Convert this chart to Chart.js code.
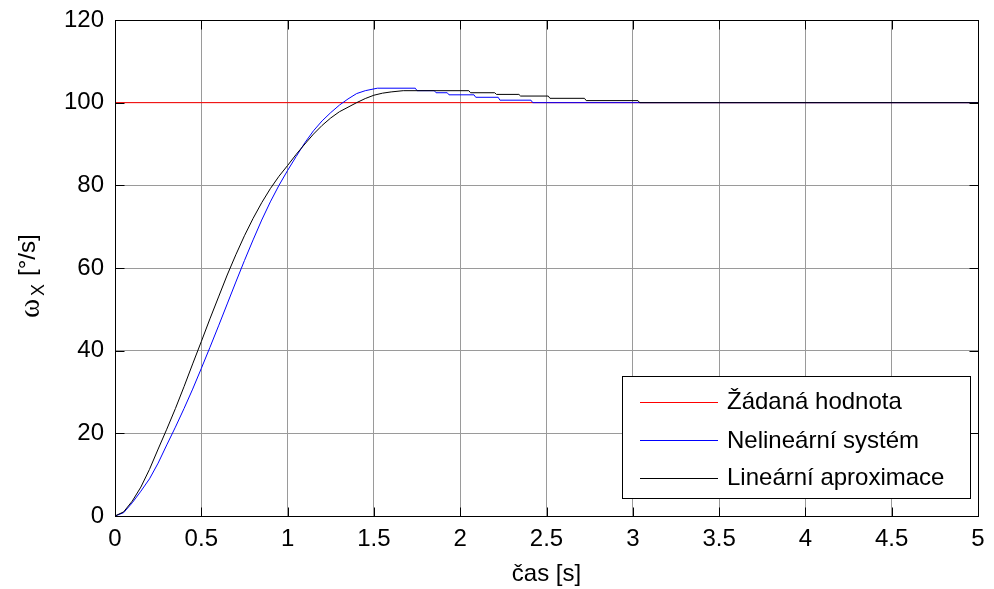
<!DOCTYPE html>
<html>
<head>
<meta charset="utf-8">
<script src="https://cdn.jsdelivr.net/npm/chart.js@4"></script>
<style>
  html, body { margin: 0; padding: 0; background: #fff; }
  #wrap { width: 994px; height: 589px; }
</style>
</head>
<body>
<div id="wrap"><canvas id="stepChart" width="994" height="589"></canvas></div>
<script>
// --- Data ---
const seriesLabels = ['Žádaná hodnota', 'Nelineární systém', 'Lineární aproximace'];
const seriesColors = ['#ff0000', '#0000ff', '#000000'];

const refTime = [0, 5];
const refOmega = [100, 100];

const nonlinTime = [0, 0.05, 0.1, 0.15, 0.2, 0.25, 0.3, 0.35, 0.4, 0.45, 0.5, 0.55, 0.6, 0.65, 0.7, 0.75,
  0.8, 0.85, 0.9, 0.95, 1.0, 1.05, 1.1, 1.15, 1.2, 1.25, 1.3, 1.35, 1.4, 1.45, 1.52, 1.74, 1.75,
  1.85, 1.86, 1.925, 1.935, 2.08, 2.09, 2.22, 2.23, 2.41, 2.42, 5];
const nonlinOmega = [0, 0.8, 3.2, 6, 9, 12.8, 17.2, 21.5, 26, 30.7, 35.7, 40.8, 46, 51.3, 56.6, 61.8,
  66.8, 71.6, 76, 80, 83.6, 87, 90.3, 93.2, 95.6, 97.6, 99.4, 100.9, 102.2, 102.9, 103.5, 103.5, 102.9,
  102.9, 102.4, 102.4, 101.9, 101.9, 101.3, 101.3, 100.6, 100.6, 100, 100];

const linTime = [0, 0.05, 0.1, 0.15, 0.2, 0.25, 0.3, 0.35, 0.4, 0.45, 0.5, 0.55, 0.6, 0.65, 0.7, 0.75,
  0.8, 0.85, 0.9, 0.95, 1.0, 1.05, 1.1, 1.15, 1.2, 1.25, 1.3, 1.35, 1.4, 1.45, 1.5, 1.55, 1.6, 1.67,
  2.05, 2.06, 2.2, 2.21, 2.34, 2.35, 2.51, 2.52, 2.72, 2.73, 3.03, 3.04, 5];
const linOmega = [0, 1.0, 3.6, 7, 11.3, 16.2, 21, 26, 31.3, 36.8, 42.2, 47.7, 53, 58.3, 63.2, 67.8,
  72, 75.8, 79.2, 82.2, 84.8, 87.5, 90, 92.4, 94.5, 96.3, 97.8, 98.9, 100, 101, 101.8, 102.3, 102.6, 102.9,
  102.9, 102.4, 102.4, 102.0, 102.0, 101.6, 101.6, 101.05, 101.05, 100.5, 100.5, 100, 100];

const xTicks = { min: 0, max: 5, step: 0.5 };
const yTicks = { min: 0, max: 120, step: 20 };
const xTitle = 'čas [s]';

const toPoints = (ts, vs) => ts.map((t, i) => ({ x: t, y: vs[i] }));

const FONT = '"Liberation Sans", Arial, sans-serif';

// frame with inward ticks on all four sides (MATLAB look)
const boxPlugin = {
  id: 'boxTicks',
  afterDatasetsDraw(chart) {
    const c = chart.ctx, a = chart.chartArea;
    const L = Math.round(a.left) + 0.5, R = Math.round(a.right) + 0.5;
    const T = Math.round(a.top) + 0.5, B = Math.round(a.bottom) + 0.5;
    const tl = 9;
    c.save();
    c.strokeStyle = '#000';
    c.lineWidth = 1;
    c.beginPath();
    chart.scales.x.ticks.forEach(t => {
      const px = Math.round(chart.scales.x.getPixelForValue(t.value)) + 0.5;
      c.moveTo(px, B); c.lineTo(px, B - tl);
      c.moveTo(px, T); c.lineTo(px, T + tl);
    });
    chart.scales.y.ticks.forEach(t => {
      const py = Math.round(chart.scales.y.getPixelForValue(t.value)) + 0.5;
      c.moveTo(L, py); c.lineTo(L + tl, py);
      c.moveTo(R, py); c.lineTo(R - tl, py);
    });
    c.stroke();
    c.strokeRect(L, T, R - L, B - T);
    c.restore();
  }
};

// legend box in lower right corner of the axes
const legendPlugin = {
  id: 'matlabLegend',
  afterDatasetsDraw(chart) {
    const c = chart.ctx;
    const x0 = 622.5, y0 = 376.5, w = 348, h = 122;
    const rows = [401.5, 440, 477.5];
    c.save();
    c.fillStyle = '#fff';
    c.fillRect(x0, y0, w, h);
    c.strokeStyle = '#000';
    c.lineWidth = 1;
    c.strokeRect(x0, y0, w, h);
    chart.data.datasets.forEach((ds, i) => {
      c.strokeStyle = ds.borderColor;
      c.beginPath();
      c.moveTo(640, Math.round(rows[i]) + 0.5);
      c.lineTo(718, Math.round(rows[i]) + 0.5);
      c.stroke();
      c.fillStyle = '#000';
      c.font = '24px ' + FONT;
      c.textBaseline = 'middle';
      c.textAlign = 'left';
      c.fillText(ds.label, 727, rows[i] + 1);
    });
    c.restore();
  }
};

// y title with subscript: ω_X [°/s]
const yTitlePlugin = {
  id: 'yTitle',
  afterDraw(chart) {
    const c = chart.ctx;
    c.save();
    c.translate(35, 318);
    c.rotate(-Math.PI / 2);
    c.fillStyle = '#000';
    c.textBaseline = 'alphabetic';
    c.textAlign = 'left';
    c.font = '29px "Liberation Serif", serif';
    c.fillText('ω', 0, 4);
    c.font = '18px ' + FONT;
    c.fillText('X', 22, 9);
    c.font = '24px ' + FONT;
    c.fillText('[°/s]', 42, 0);
    c.restore();
  }
};

const ctx = document.getElementById('stepChart').getContext('2d');

const lineDs = (i, data, order) => ({
  label: seriesLabels[i],
  data: data,
  borderColor: seriesColors[i],
  backgroundColor: seriesColors[i],
  borderWidth: 1,
  pointRadius: 0,
  tension: 0,
  fill: false,
  order: order
});

new Chart(ctx, {
  type: 'line',
  data: {
    datasets: [
      lineDs(0, toPoints(refTime, refOmega), 3),
      lineDs(1, toPoints(nonlinTime, nonlinOmega), 2),
      lineDs(2, toPoints(linTime, linOmega), 1)
    ]
  },
  options: {
    responsive: false,
    animation: false,
    layout: { padding: { left: 0, top: 20, right: 16, bottom: 0 } },
    plugins: {
      legend: { display: false },
      tooltip: { enabled: false }
    },
    scales: {
      x: {
        type: 'linear',
        min: xTicks.min,
        max: xTicks.max,
        afterFit: s => {
          s.height = 73;
          s.paddingLeft = 0; s.paddingRight = 0;
        },
        border: { display: false },
        grid: { color: '#9a9a9a', drawTicks: false },
        ticks: {
          stepSize: xTicks.step,
          padding: 9,
          color: '#000',
          font: { family: FONT, size: 24 },
          maxRotation: 0,
          callback: v => String(Math.round(v * 10) / 10)
        },
        title: {
          display: true,
          text: xTitle,
          color: '#000',
          font: { family: FONT, size: 24 },
          padding: { top: 0, bottom: 0 }
        }
      },
      y: {
        min: yTicks.min,
        max: yTicks.max,
        afterFit: s => {
          s.width = 115;
          s.paddingTop = 0; s.paddingBottom = 0;
        },
        border: { display: false },
        grid: { color: '#9a9a9a', drawTicks: false },
        ticks: {
          stepSize: yTicks.step,
          padding: 11,
          color: '#000',
          font: { family: FONT, size: 24 }
        }
      }
    }
  },
  plugins: [boxPlugin, legendPlugin, yTitlePlugin]
});
</script>
</body>
</html>
